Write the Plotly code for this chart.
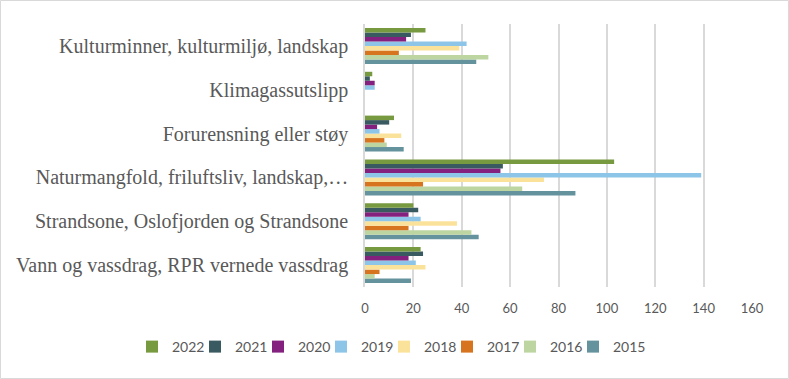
import plotly.graph_objects as go

# Categories listed bottom-to-top (Plotly category axis draws first at bottom)
categories = [
    "Vann og vassdrag, RPR vernede vassdrag",
    "Strandsone, Oslofjorden og Strandsone",
    "Naturmangfold, friluftsliv, landskap,…",
    "Forurensning eller støy",
    "Klimagassutslipp",
    "Kulturminner, kulturmiljø, landskap",
]

years = ["2015", "2016", "2017", "2018", "2019", "2020", "2021", "2022"]

v2015 = [19, 47, 87, 16, 0, 46]
v2016 = [4, 44, 65, 9, 0, 51]
v2017 = [6, 18, 24, 8, 0, 14]
v2018 = [25, 38, 74, 15, 0, 39]
v2019 = [21, 23, 139, 6, 4, 42]
v2020 = [18, 18, 56, 5, 4, 17]
v2021 = [24, 22, 57, 10, 2, 19]
v2022 = [23, 20, 103, 12, 3, 25]

values = [v2015, v2016, v2017, v2018, v2019, v2020, v2021, v2022]

colors = ["#64939D", "#BDD5A0", "#D7741F", "#FBE29A",
          "#8DC5E8", "#84207D", "#3A5A62", "#77993F"]

x_ticks = [0, 20, 40, 60, 80, 100, 120, 140, 160]

fig = go.Figure()
# invisible spacer legend entry (listed last) so the final label is not clipped
fig.add_trace(go.Scatter(
    x=[None], y=[None], mode="markers", name=" ",
    marker=dict(color="rgba(0,0,0,0)", size=1),
    hoverinfo="skip", showlegend=True,
))
for yr, vals, col in zip(years, values, colors):
    fig.add_trace(go.Bar(
        y=categories, x=vals, name=yr, orientation="h",
        marker=dict(color=col, line=dict(width=0)),
    ))

W, H = 789, 379
ml, mr, mt, mb = 365, 37, 24, 92
pw = W - ml - mr
ph = H - mt - mb

fig.update_layout(
    width=W, height=H,
    margin=dict(l=ml, r=mr, t=mt, b=mb, pad=0, autoexpand=False),
    barmode="group",
    bargap=0.18,
    bargroupgap=0,
    plot_bgcolor="white",
    paper_bgcolor="white",
    legend=dict(
        orientation="h",
        traceorder="reversed",
        x=(132 - ml) / pw, xanchor="left",
        y=(H - mb - 347) / ph, yanchor="middle",
        entrywidth=18,
        itemwidth=30,
        bgcolor="rgba(0,0,0,0)",
        font=dict(family="Lato", size=14, color="#595959"),
    ),
    xaxis=dict(
        type="linear",
        range=[0, 160],
        tickvals=x_ticks,
        showgrid=True, gridcolor="#D9D9D9", gridwidth=1.5,
        zeroline=False,
        showline=False,
        ticks="",
        tickfont=dict(family="Lato", size=13, color="#595959"),
        ticklabelstandoff=12,
    ),
    yaxis=dict(
        type="category",
        categoryorder="array",
        categoryarray=categories,
        showline=True, linecolor="#D9D9D9", linewidth=1.5,
        ticks="",
        tickfont=dict(family="Liberation Serif", size=20, color="#595959"),
        ticklabelstandoff=11,
    ),
)

# light border around the whole chart
fig.add_shape(
    type="rect", xref="paper", yref="paper",
    x0=(-ml + 0.5) / pw, x1=(W - ml - 0.5) / pw,
    y0=(-mb + 0.5) / ph, y1=(H - mb - 0.5) / ph,
    line=dict(color="#D9D9D9", width=1),
    fillcolor="rgba(0,0,0,0)",
    layer="below",
)

fig.write_html("out.html", config={"displayModeBar": False},
               post_script="document.body.style.margin='0px';")
